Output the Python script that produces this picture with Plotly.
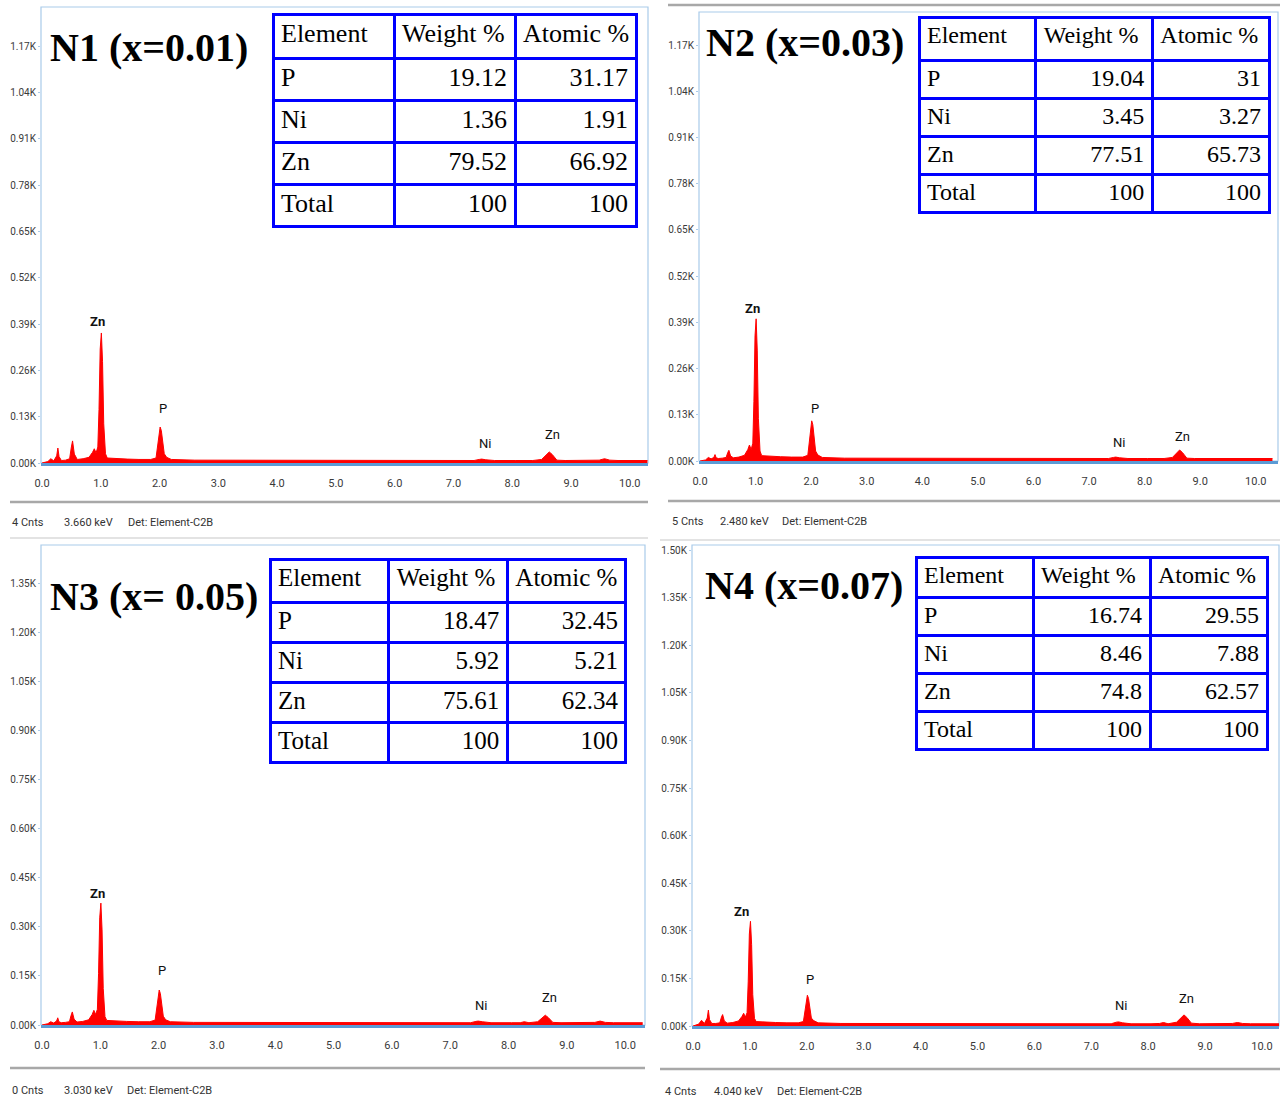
import plotly.graph_objects as go

# ---------------- data ----------------
energy_kev = [0.00, 0.10, 0.15, 0.20, 0.25, 0.27, 0.29, 0.33, 0.40, 0.47,
              0.50, 0.52, 0.55, 0.60, 0.70, 0.80, 0.86, 0.89, 0.92, 0.95,
              0.97, 0.99, 1.01, 1.03, 1.05, 1.08, 1.11, 1.25, 1.45, 1.65,
              1.85, 1.94, 1.97, 1.99, 2.01, 2.03, 2.05, 2.08, 2.12, 2.20,
              2.60, 3.00, 3.40, 3.80, 4.20, 4.60, 5.00, 5.40, 5.80, 6.20,
              6.60, 7.00, 7.35, 7.44, 7.48, 7.55, 7.70, 8.05, 8.20, 8.27,
              8.35, 8.50, 8.58, 8.63, 8.68, 8.76, 8.90, 9.30, 9.48, 9.57,
              9.66, 9.80, 10.30]

counts_N1 = [0.000, 0.004, 0.012, 0.006, 0.020, 0.042, 0.018, 0.007, 0.008, 0.012,
             0.045, 0.062, 0.025, 0.010, 0.012, 0.016, 0.030, 0.040, 0.028, 0.045,
             0.150, 0.320, 0.365, 0.285, 0.110, 0.026, 0.014, 0.012, 0.011, 0.010,
             0.010, 0.014, 0.050, 0.089, 0.101, 0.091, 0.060, 0.026, 0.016, 0.010,
             0.008, 0.008, 0.008, 0.008, 0.008, 0.007, 0.007, 0.007, 0.007, 0.007,
             0.007, 0.007, 0.007, 0.010, 0.011, 0.009, 0.007, 0.007, 0.007, 0.009,
             0.007, 0.010, 0.024, 0.031, 0.024, 0.008, 0.007, 0.007, 0.008, 0.012,
             0.008, 0.007, 0.007]

counts_N2 = [0.000, 0.003, 0.010, 0.006, 0.010, 0.018, 0.009, 0.007, 0.008, 0.010,
             0.024, 0.030, 0.014, 0.009, 0.011, 0.016, 0.032, 0.045, 0.032, 0.050,
             0.168, 0.352, 0.400, 0.312, 0.120, 0.028, 0.015, 0.013, 0.012, 0.011,
             0.011, 0.016, 0.056, 0.099, 0.113, 0.102, 0.068, 0.028, 0.017, 0.010,
             0.008, 0.008, 0.008, 0.008, 0.007, 0.007, 0.007, 0.007, 0.007, 0.007,
             0.007, 0.007, 0.007, 0.010, 0.011, 0.009, 0.007, 0.007, 0.007, 0.009,
             0.007, 0.010, 0.024, 0.031, 0.024, 0.008, 0.007, 0.007, 0.007, 0.009,
             0.007, 0.007, 0.007]

counts_N3 = [0.000, 0.004, 0.010, 0.006, 0.012, 0.022, 0.010, 0.007, 0.008, 0.010,
             0.030, 0.040, 0.018, 0.009, 0.011, 0.016, 0.032, 0.045, 0.032, 0.048,
             0.157, 0.328, 0.373, 0.291, 0.112, 0.026, 0.014, 0.012, 0.011, 0.010,
             0.010, 0.015, 0.053, 0.094, 0.107, 0.096, 0.064, 0.027, 0.016, 0.010,
             0.008, 0.008, 0.008, 0.008, 0.008, 0.007, 0.007, 0.007, 0.007, 0.007,
             0.007, 0.007, 0.007, 0.011, 0.012, 0.010, 0.007, 0.007, 0.007, 0.010,
             0.007, 0.010, 0.023, 0.030, 0.023, 0.008, 0.007, 0.007, 0.008, 0.012,
             0.008, 0.007, 0.007]

counts_N4 = [0.000, 0.006, 0.018, 0.008, 0.025, 0.050, 0.020, 0.008, 0.008, 0.010,
             0.028, 0.036, 0.016, 0.009, 0.011, 0.016, 0.030, 0.040, 0.028, 0.042,
             0.139, 0.290, 0.330, 0.257, 0.099, 0.024, 0.014, 0.012, 0.011, 0.010,
             0.010, 0.014, 0.048, 0.085, 0.097, 0.087, 0.058, 0.025, 0.017, 0.010,
             0.008, 0.008, 0.008, 0.008, 0.008, 0.007, 0.007, 0.007, 0.007, 0.007,
             0.007, 0.007, 0.007, 0.012, 0.013, 0.010, 0.007, 0.007, 0.008, 0.011,
             0.007, 0.012, 0.027, 0.035, 0.027, 0.009, 0.007, 0.007, 0.008, 0.011,
             0.008, 0.007, 0.007]

titles = ["N1 (x=0.01)", "N2 (x=0.03)", "N3 (x= 0.05)", "N4 (x=0.07)"]

table_header = ["Element", "Weight\u00a0%", "Atomic\u00a0%"]
elements = ["P", "Ni", "Zn", "Total"]
weight_N1 = [19.12, 1.36, 79.52, 100]
atomic_N1 = [31.17, 1.91, 66.92, 100]
weight_N2 = [19.04, 3.45, 77.51, 100]
atomic_N2 = [31, 3.27, 65.73, 100]
weight_N3 = [18.47, 5.92, 75.61, 100]
atomic_N3 = [32.45, 5.21, 62.34, 100]
weight_N4 = [16.74, 8.46, 74.8, 100]
atomic_N4 = [29.55, 7.88, 62.57, 100]

peak_labels = ["Zn", "P", "Ni", "Zn"]
peak_label_x_N1 = [0.94, 2.06, 7.53, 8.69]
peak_label_y_N1 = [0.396, 0.152, 0.056, 0.081]
peak_label_x_N2 = [0.95, 2.07, 7.54, 8.69]
peak_label_y_N2 = [0.430, 0.149, 0.053, 0.068]
peak_label_x_N3 = [0.96, 2.06, 7.53, 8.70]
peak_label_y_N3 = [0.401, 0.168, 0.061, 0.083]
peak_label_x_N4 = [0.85, 2.06, 7.52, 8.68]
peak_label_y_N4 = [0.362, 0.148, 0.066, 0.088]

x_ticks = [0, 1, 2, 3, 4, 5, 6, 7, 8, 9, 10]
x_tick_text = ["0.0", "1.0", "2.0", "3.0", "4.0", "5.0", "6.0", "7.0", "8.0", "9.0", "10.0"]
y_ticks_a = [0, 0.13, 0.26, 0.39, 0.52, 0.65, 0.78, 0.91, 1.04, 1.17]
y_text_a = ["0.00K", "0.13K", "0.26K", "0.39K", "0.52K", "0.65K", "0.78K", "0.91K", "1.04K", "1.17K"]
y_ticks_b = [0, 0.15, 0.30, 0.45, 0.60, 0.75, 0.90, 1.05, 1.20, 1.35]
y_text_b = ["0.00K", "0.15K", "0.30K", "0.45K", "0.60K", "0.75K", "0.90K", "1.05K", "1.20K", "1.35K"]
y_ticks_c = [0, 0.15, 0.30, 0.45, 0.60, 0.75, 0.90, 1.05, 1.20, 1.35, 1.50]
y_text_c = ["0.00K", "0.15K", "0.30K", "0.45K", "0.60K", "0.75K", "0.90K", "1.05K", "1.20K", "1.35K", "1.50K"]

status_cnts = ["4 Cnts", "5 Cnts", "0 Cnts", "4 Cnts"]
status_kev = ["3.660 keV", "2.480 keV", "3.030 keV", "4.040 keV"]
status_det = ["Det: Element-C2B", "Det: Element-C2B", "Det: Element-C2B", "Det: Element-C2B"]

# ---------------- layout helpers ----------------
W, H = 1280, 1104
def fx(p): return p / W
def fy(p): return 1 - p / H

SANS = "Roboto, Liberation Sans, Arial"
SERIF = "Liberation Serif, Times New Roman, serif"
RED = "#FF0000"
FRAME = "#A9CBEA"
AXIS = "#5B9BD5"
BLUE = "#0000FF"

panels = [
    dict(counts=counts_N1, box=(41, 648, 7, 463), xr=[-0.017, 10.31], yr=[0, 1.280],
         yt=y_ticks_a, ytt=y_text_a, w=weight_N1, a=atomic_N1,
         lx=peak_label_x_N1, ly=peak_label_y_N1,
         title_pos=(48, 47), tsize=40,
         table=(273, 636, 14, 44, 42, 26),
         status_y=522, status_x=(10, 62, 126)),
    dict(counts=counts_N2, box=(699, 1278, 12, 461), xr=[-0.018, 10.40], yr=[0, 1.263],
         yt=y_ticks_a, ytt=y_text_a, w=weight_N2, a=atomic_N2,
         lx=peak_label_x_N2, ly=peak_label_y_N2,
         title_pos=(704, 42), tsize=40,
         table=(919, 1269, 17, 43, 38, 24),
         status_y=521, status_x=(670, 718, 780)),
    dict(counts=counts_N3, box=(41, 645, 545, 1025), xr=[-0.017, 10.34], yr=[0, 1.469],
         yt=y_ticks_b, ytt=y_text_b, w=weight_N3, a=atomic_N3,
         lx=peak_label_x_N3, ly=peak_label_y_N3,
         title_pos=(48, 596), tsize=40,
         table=(270, 626, 559, 43, 40, 25),
         status_y=1090, status_x=(10, 62, 125)),
    dict(counts=counts_N4, box=(692, 1279, 545, 1026), xr=[-0.018, 10.30], yr=[0, 1.516],
         yt=y_ticks_c, ytt=y_text_c, w=weight_N4, a=atomic_N4,
         lx=peak_label_x_N4, ly=peak_label_y_N4,
         title_pos=(703, 585), tsize=40,
         table=(916, 1267, 557, 40, 38, 24),
         status_y=1091, status_x=(663, 712, 775)),
]

fig = go.Figure()
annotations = []
shapes = []
layout_axes = {}

def fmt(v):
    return f"{v:g}"

for i, p in enumerate(panels):
    n = i + 1
    xa = "x" if n == 1 else f"x{n}"
    ya = "y" if n == 1 else f"y{n}"
    xkey = "xaxis" if n == 1 else f"xaxis{n}"
    ykey = "yaxis" if n == 1 else f"yaxis{n}"
    l, r, t, b = p["box"]

    fig.add_trace(go.Scatter(
        x=energy_kev, y=p["counts"], xaxis=xa, yaxis=ya, mode="lines",
        line=dict(color=RED, width=1), fill="tozeroy", fillcolor=RED,
        hoverinfo="skip", showlegend=False))

    layout_axes[xkey] = dict(
        domain=[fx(l), fx(r)], range=p["xr"], anchor=ya, automargin=False,
        tickmode="array", tickvals=x_ticks, ticktext=x_tick_text,
        showgrid=False, zeroline=False, showline=True, linecolor=AXIS, linewidth=3,
        ticks="", ticklabelstandoff=8,
        tickfont=dict(family=SANS, size=11, color="#3a3a3a"), fixedrange=True)
    layout_axes[ykey] = dict(
        domain=[fy(b), fy(t)], range=p["yr"], anchor=xa, automargin=False,
        tickmode="array", tickvals=p["yt"], ticktext=p["ytt"],
        showgrid=False, zeroline=False, showline=False,
        ticks="outside", ticklen=2, tickcolor=FRAME, ticklabelstandoff=0,
        tickfont=dict(family=SANS, size=10, color="#3a3a3a"), fixedrange=True)

    # light-blue plot frame
    shapes.append(dict(type="rect", xref=f"{xa} domain", yref=f"{ya} domain",
                       x0=0, x1=1, y0=0, y1=1, line=dict(color=FRAME, width=1.2),
                       layer="below"))

    # peak labels
    for k, (txt, lxv, lyv) in enumerate(zip(peak_labels, p["lx"], p["ly"])):
        annotations.append(dict(
            x=lxv, y=lyv, xref=xa, yref=ya, text=(f"<b>{txt}</b>" if k == 0 else txt),
            showarrow=False, font=dict(family=SANS, size=13, color="#111111")))

    # title
    tx, ty = p["title_pos"]
    annotations.append(dict(
        x=fx(tx), y=fy(ty), xref="paper", yref="paper", xanchor="left", yanchor="middle",
        text=f"<b>{titles[i]}</b>", showarrow=False,
        font=dict(family=SERIF, size=p["tsize"], color="black")))

    # element table
    tl, tr, tt, hh, ch, fs = p["table"]
    total_h = hh + 4 * ch
    fig.add_trace(go.Table(
        domain=dict(x=[fx(tl), fx(tr)], y=[fy(tt + total_h + 30), fy(tt)]),
        columnwidth=[1, 1, 1],
        header=dict(values=table_header, align=["left", "left", "left"],
                    fill=dict(color="white"), line=dict(color=BLUE, width=3),
                    font=dict(family=SERIF, size=fs, color="black"), height=hh),
        cells=dict(values=[elements, [fmt(v) for v in p["w"]], [fmt(v) for v in p["a"]]],
                   align=["left", "right", "right"],
                   fill=dict(color="white"), line=dict(color=BLUE, width=3),
                   font=dict(family=SERIF, size=fs, color="black"), height=ch)))

    # status bar text
    sy = p["status_y"]
    for sx, stxt in zip(p["status_x"], [status_cnts[i], status_kev[i], status_det[i]]):
        annotations.append(dict(
            x=fx(sx), y=fy(sy), xref="paper", yref="paper", xanchor="left", yanchor="middle",
            text=stxt, showarrow=False, font=dict(family=SANS, size=11, color="#333333")))

# gray separator lines of the software windows
separators = [
    (10, 648, 502, 2.5, "#A8A8A8"), (10, 648, 538, 1.2, "#C8C8C8"),
    (668, 1280, 5, 2.5, "#A8A8A8"), (668, 1280, 501, 2.5, "#A8A8A8"),
    (660, 1280, 540, 1.2, "#C8C8C8"),
    (10, 645, 1068, 2.5, "#A8A8A8"), (660, 1280, 1069, 2.5, "#A8A8A8"),
]
for x0, x1, yy, wdt, col in separators:
    shapes.append(dict(type="line", xref="paper", yref="paper",
                       x0=fx(x0), x1=fx(x1), y0=fy(yy), y1=fy(yy),
                       line=dict(color=col, width=wdt)))

fig.update_layout(
    width=W, height=H, margin=dict(l=0, r=0, t=0, b=0, autoexpand=False),
    paper_bgcolor="white", plot_bgcolor="white", showlegend=False,
    annotations=annotations, shapes=shapes, **layout_axes)

fig.write_html("out.html")
